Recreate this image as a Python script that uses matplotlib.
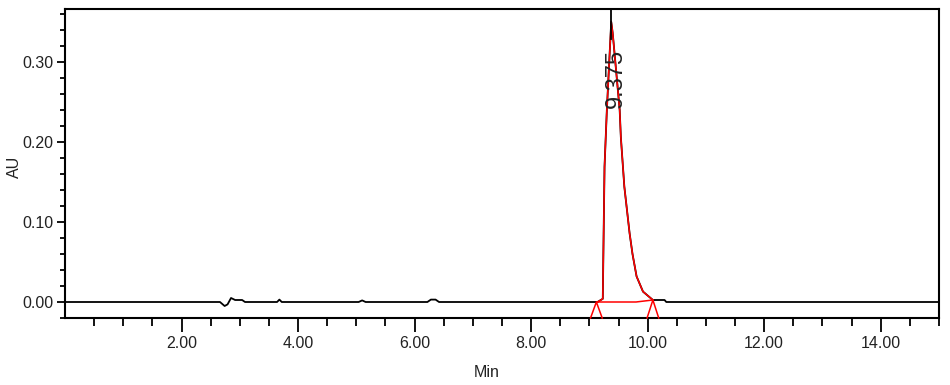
import numpy as np
import matplotlib
matplotlib.use("Agg")
import matplotlib.pyplot as plt
from matplotlib.ticker import FixedLocator, FormatStrFormatter

# black chromatogram trace before the peak (min, AU)
base_t = [0.00, 2.66, 2.74, 2.79, 2.85, 2.92, 3.04, 3.09, 3.64, 3.68, 3.72,
          5.04, 5.10, 5.16, 6.22, 6.28, 6.36, 6.42, 9.14]
base_au = [0.000, 0.000, -0.005, -0.003, 0.005, 0.0025, 0.0025, 0.000, 0.000, 0.003, 0.000,
           0.000, 0.002, 0.000, 0.000, 0.003, 0.003, 0.000, 0.000]

# integrated peak (red)
peak_t = [9.14, 9.23, 9.24, 9.26, 9.30, 9.375, 9.40, 9.52, 9.54, 9.60,
          9.69, 9.74, 9.81, 9.92, 10.09]
peak_au = [0.000, 0.004, 0.060, 0.169, 0.240, 0.350, 0.336, 0.240, 0.206, 0.144,
           0.086, 0.060, 0.032, 0.013, 0.0025]

# black trace after the peak
tail_t = [10.09, 10.29, 10.32, 15.00]
tail_au = [0.0025, 0.0025, 0.000, 0.000]

# drop-line baseline of the peak
bl_t = [9.14, 9.80, 10.09]
bl_au = [0.000, 0.000, 0.0025]

peak_start, peak_end = 9.12, 10.09
rt_label = "9.375"

x_major = [2, 4, 6, 8, 10, 12, 14]
x_minor = [0.5, 1, 1.5, 2.5, 3, 3.5, 4.5, 5, 5.5, 6.5, 7, 7.5, 8.5, 9, 9.5,
           10.5, 11, 11.5, 12.5, 13, 13.5, 14.5, 15]
y_major = [0.0, 0.1, 0.2, 0.3]
y_minor = [-0.02, 0.02, 0.04, 0.06, 0.08, 0.12, 0.14, 0.16, 0.18,
           0.22, 0.24, 0.26, 0.28, 0.32, 0.34, 0.36]

font = ['Liberation Sans', 'DejaVu Sans']
txt_col = '#222222'

fig = plt.figure(figsize=(9.5, 3.85), dpi=100)
ax = fig.add_axes([0.0684, 0.174, 0.92, 0.8026])

trace_t = base_t + peak_t[1:] + tail_t[1:]
trace_au = base_au + peak_au[1:] + tail_au[1:]
ax.plot(trace_t, trace_au, color='black', lw=1.3, zorder=2)
ax.plot(peak_t, peak_au, color='red', lw=1.1, zorder=3)
ax.plot(bl_t, bl_au, color='red', lw=1.1, zorder=3)

# peak start / end markers
for t0, a0 in [(peak_start, 0.0), (peak_end, 0.0025)]:
    ax.plot([t0 - 0.1, t0, t0 + 0.1], [-0.02, a0, -0.02], color='red', lw=1.1,
            zorder=3, clip_on=False)

# retention time marker and label
ax.plot([9.375, 9.375], [0.328, 0.366], color='black', lw=1.3, zorder=4)
ax.text(9.45, 0.279, rt_label, rotation=90, ha='center', va='center',
        fontsize=17, family=font, color=txt_col, zorder=5)

ax.set_xlim(0, 15)
ax.set_ylim(-0.02, 0.366)

ax.xaxis.set_major_locator(FixedLocator(x_major))
ax.xaxis.set_minor_locator(FixedLocator(x_minor))
ax.yaxis.set_major_locator(FixedLocator(y_major))
ax.yaxis.set_minor_locator(FixedLocator(y_minor))
ax.xaxis.set_major_formatter(FormatStrFormatter('%.2f'))
ax.yaxis.set_major_formatter(FormatStrFormatter('%.2f'))

ax.tick_params(axis='x', which='major', length=10, width=1.3, direction='out', pad=3)
ax.tick_params(axis='x', which='minor', length=5.5, width=1.3, direction='out')
ax.tick_params(axis='y', which='major', length=6, width=1.3, direction='out', pad=2)
ax.tick_params(axis='y', which='minor', length=3.6, width=1.3, direction='out')
for lab in ax.get_xticklabels() + ax.get_yticklabels():
    lab.set_family(font)
    lab.set_fontsize(11.5)
    lab.set_color(txt_col)

for sp in ax.spines.values():
    sp.set_linewidth(1.5)
    sp.set_color('black')

ax.set_xlabel('Min', family=font, fontsize=11.5, color=txt_col)
ax.xaxis.set_label_coords(0.482, -0.152)
ax.set_ylabel('AU', family=font, fontsize=11.5, color=txt_col)
ax.yaxis.set_label_coords(-0.049, 0.489)

fig.savefig('out.png', dpi=100)
